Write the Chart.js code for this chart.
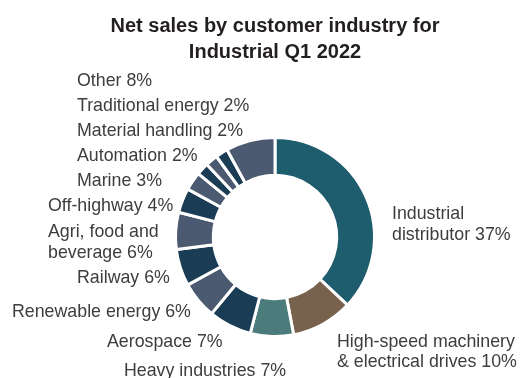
<!DOCTYPE html>
<html><head><meta charset="utf-8">
<script src="https://cdn.jsdelivr.net/npm/chart.js@4/dist/chart.umd.min.js"></script>
<style>html,body{margin:0;padding:0;background:#fff}#wrap{width:523px;height:378px}</style>
</head><body><div id="wrap"><canvas id="c" width="523" height="378"></canvas></div>
<script>
const titleLines = ["Net sales by customer industry for", "Industrial Q1 2022"];
const categories = [
  ["Industrial", "distributor"],
  ["High-speed machinery", "& electrical drives"],
  ["Heavy industries"],
  ["Aerospace"],
  ["Renewable energy"],
  ["Railway"],
  ["Agri, food and", "beverage"],
  ["Off-highway"],
  ["Marine"],
  ["Automation"],
  ["Material handling"],
  ["Traditional energy"],
  ["Other"]
];
const shares = [37, 10, 7, 7, 6, 6, 6, 4, 3, 2, 2, 2, 8];
const sliceColors = ["#1e5d6e", "#79624d", "#4b7b7b", "#1a3c55", "#4b5a70", "#1a3c55", "#4b5a70",
                     "#1a3c55", "#4b5a70", "#1a3c55", "#4b5a70", "#1a3c55", "#4b5a70"];
// label placement: left edge / first baseline, as offsets from the doughnut centre
const labelLayout = [
  [117, -17.7], [62, 109.7], [-151, 138.7], [-168, 110.3], [-263, 79.7], [-198, 46.3],
  [-227, 0.3], [-227, -26], [-198, -51], [-198, -76.3], [-198, -101], [-198, -126], [-198, -151.5]
];

const labelsPlugin = {
  id: 'outerLabels',
  afterDraw(chart) {
    const ctx = chart.ctx;
    const arc = chart.getDatasetMeta(0).data[0];
    const cx = arc.x, cy = arc.y;
    ctx.save();
    // title
    ctx.fillStyle = '#231f20';
    ctx.font = 'bold 20px "Liberation Sans", Arial, sans-serif';
    ctx.textAlign = 'center';
    ctx.textBaseline = 'alphabetic';
    ctx.fillText(titleLines[0], cx, 32);
    ctx.fillText(titleLines[1], cx, 58.3);
    // slice labels
    ctx.fillStyle = '#3d3d3d';
    ctx.font = '17.8px "Liberation Sans", Arial, sans-serif';
    ctx.textAlign = 'left';
    categories.forEach((lines, i) => {
      const [dx, dy] = labelLayout[i];
      lines.forEach((t, j) => {
        const txt = j === lines.length - 1 ? t + ' ' + shares[i] + '%' : t;
        ctx.fillText(txt, cx + dx, cy + dy + j * 20.5);
      });
    });
    ctx.restore();
  }
};

new Chart(document.getElementById('c'), {
  type: 'doughnut',
  data: {
    labels: categories.map(l => l.join(' ')),
    datasets: [{
      data: shares,
      backgroundColor: sliceColors,
      borderColor: '#ffffff',
      borderWidth: 3
    }]
  },
  options: {
    responsive: false,
    devicePixelRatio: 1,
    animation: false,
    cutout: '62%',
    layout: { padding: { left: 174, right: 147, top: 136, bottom: 40 } },
    plugins: { legend: { display: false }, tooltip: { enabled: false }, title: { display: false } }
  },
  plugins: [labelsPlugin]
});
</script>
</body></html>
